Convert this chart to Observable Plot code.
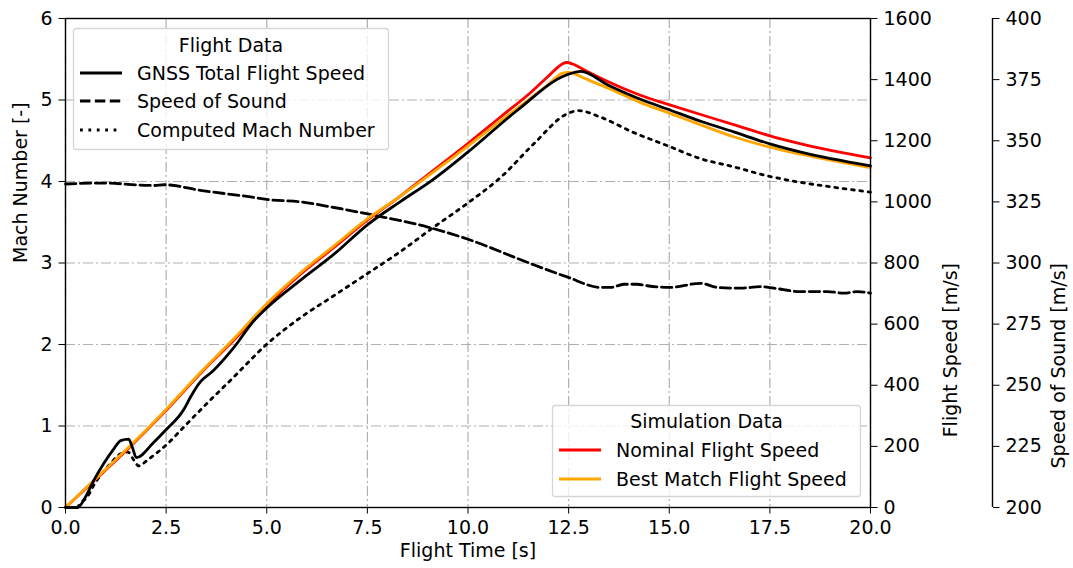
<!DOCTYPE html>
<html><head><meta charset="utf-8">
<script src="https://cdn.jsdelivr.net/npm/d3@7"></script>
<script src="https://cdn.jsdelivr.net/npm/@observablehq/plot@0.6"></script>
<style>
html,body{margin:0;padding:0;background:#fff;}
#wrap{position:relative;width:1073px;height:568px;}
#legend{position:absolute;left:0;top:0;pointer-events:none;}
</style></head>
<body><div id="wrap"></div>
<script>
// ---- tick labels ----
const xTicks = [0, 2.5, 5, 7.5, 10, 12.5, 15, 17.5, 20];
const machTicks = [0, 1, 2, 3, 4, 5, 6];
const flightSpeedTicks = [0, 200, 400, 600, 800, 1000, 1200, 1400, 1600];
const soundSpeedTicks = [200, 225, 250, 275, 300, 325, 350, 375, 400];

// ---- GNSS total flight speed [m/s] ----
const gnssTime  = [0, 0.3, 0.5, 0.7, 0.95, 1.2, 1.37, 1.57, 1.66, 1.76, 2.19, 2.48, 2.95, 3.1, 3.35, 3.65, 4.18, 4.68, 5.0, 5.84, 6.67, 7.5, 8.32, 9.07, 9.98, 11.22, 12.46, 12.8, 13.5, 14.3, 14.95, 15.8, 16.6, 17.5, 18.3, 20];
const gnssSpeed = [0, 0, 35, 88, 144, 192, 219, 224, 197, 163, 213, 252, 323, 360, 411, 445, 523, 611, 653, 744, 829, 925, 1001, 1067, 1161, 1299, 1416, 1427, 1381, 1335, 1304, 1263, 1229, 1190, 1162, 1118];

// ---- Speed of sound [m/s] ----
const sosTime  = [0, 0.9, 2.2, 2.45, 3.35, 4.6, 5.0, 5.84, 6.67, 7.74, 9.0, 10.0, 11.47, 12.46, 13.3, 13.55, 13.87, 14.2, 14.45, 15.0, 15.78, 16.2, 16.77, 17.27, 17.6, 18.26, 18.92, 19.34, 19.67, 20];
const sosSpeed = [332.3, 332.7, 331.7, 332.0, 329.7, 327.0, 326.0, 325.0, 322.7, 319.3, 314.7, 309.7, 300.3, 294.3, 290.0, 290.0, 291.3, 291.3, 290.7, 290.0, 291.7, 290.0, 289.7, 290.3, 289.7, 288.3, 288.3, 287.7, 288.3, 287.7];

// ---- Computed Mach number [-] ----
const machTime  = [0.3, 0.37, 0.54, 0.7, 1.12, 1.37, 1.55, 1.7, 1.82, 2.03, 2.53, 3.02, 3.52, 4.18, 4.97, 5.84, 6.67, 7.5, 8.32, 9.15, 9.98, 10.81, 11.63, 12.46, 12.75, 13.29, 14.12, 14.95, 15.78, 16.6, 17.43, 18.26, 19.08, 20];
const machValue = [0, 0.05, 0.13, 0.27, 0.54, 0.66, 0.68, 0.58, 0.51, 0.58, 0.78, 1.03, 1.28, 1.60, 1.99, 2.33, 2.60, 2.87, 3.14, 3.44, 3.73, 4.05, 4.46, 4.83, 4.87, 4.79, 4.60, 4.44, 4.28, 4.18, 4.07, 3.99, 3.93, 3.87];

// ---- Simulation: nominal flight speed [m/s] ----
const nomTime  = [0, 0.7, 1.53, 2.4, 3.4, 4.18, 5.0, 5.84, 6.67, 7.5, 8.32, 9.07, 9.98, 10.8, 11.6, 12.0, 12.2, 12.35, 12.45, 12.6, 12.8, 13.0, 13.5, 14.3, 14.95, 15.8, 16.6, 17.5, 18.3, 20];
const nomSpeed = [0, 86, 189, 304, 445, 547, 661, 763, 851, 940, 1019, 1096, 1189, 1277, 1363, 1412, 1437, 1452, 1456, 1451, 1438, 1424, 1392, 1348, 1320, 1285, 1253, 1216, 1189, 1144];

// ---- Simulation: best match flight speed [m/s] ----
const bestTime  = [0, 0.7, 1.53, 2.4, 3.4, 4.18, 5.0, 5.84, 6.67, 7.5, 8.32, 9.07, 9.98, 10.8, 11.6, 12.0, 12.2, 12.35, 12.5, 12.65, 12.9, 13.5, 14.3, 14.95, 15.8, 16.6, 17.5, 18.3, 20];
const bestSpeed = [0, 88, 192, 307, 448, 552, 667, 768, 856, 944, 1019, 1091, 1181, 1264, 1344, 1385, 1408, 1421, 1424, 1419, 1404, 1371, 1324, 1293, 1251, 1213, 1179, 1155, 1112];

// unit conversions onto the shared Mach-number axis
const MACH_MAX = 6, FS_MAX = 1600, SOS_MIN = 200, SOS_MAX = 400;
const fsToY = v => v * MACH_MAX / FS_MAX;
const sosToY = a => (a - SOS_MIN) * MACH_MAX / (SOS_MAX - SOS_MIN);

const zip = (ts, vs) => ts.map((t, i) => ({t, v: vs[i]}));
const gnss = zip(gnssTime, gnssSpeed);
const sos = zip(sosTime, sosSpeed);
const mach = zip(machTime, machValue);
const nom = zip(nomTime, nomSpeed);
const best = zip(bestTime, bestSpeed);

const FONT = "DejaVu Sans";
const FS = 19;
const LW = 2.8;
const DASH = "10.4,4.5";
const DOT = "2.8,5.6";
const GRID = {stroke: "#b0b0b0", strokeOpacity: 1, strokeWidth: 1.2, strokeDasharray: "10,3,2,3"};

const chart = Plot.plot({
  width: 1073, height: 568,
  marginLeft: 65, marginRight: 203, marginTop: 18, marginBottom: 61,
  style: {fontFamily: FONT, fontSize: FS + "px", background: "white", overflow: "visible"},
  x: {domain: [0, 20]},
  y: {domain: [0, 6]},
  marks: [
    Plot.gridX(xTicks, GRID),
    Plot.gridY(machTicks, GRID),
    Plot.line(mach, {x: "t", y: "v", stroke: "black", strokeWidth: LW, strokeDasharray: DOT, curve: "monotone-x"}),
    Plot.line(sos, {x: "t", y: d => sosToY(d.v), stroke: "black", strokeWidth: LW, strokeDasharray: DASH, curve: "monotone-x"}),
    Plot.line(nom, {x: "t", y: d => fsToY(d.v), stroke: "#ff0000", strokeWidth: LW, curve: "monotone-x"}),
    Plot.line(best, {x: "t", y: d => fsToY(d.v), stroke: "#ffa500", strokeWidth: LW, curve: "monotone-x"}),
    Plot.line(gnss, {x: "t", y: d => fsToY(d.v), stroke: "black", strokeWidth: LW, curve: "monotone-x"}),
    Plot.frame({stroke: "black", strokeWidth: 1.4}),
    Plot.axisX(xTicks, {tickFormat: d3.format(".1f"), tickSize: 6.5, tickPadding: 6, label: null, fontSize: FS}),
    Plot.axisY(machTicks, {anchor: "left", tickSize: 6.5, tickPadding: 6.5, label: null, fontSize: FS, tickFormat: d => String(d)}),
    Plot.axisY(flightSpeedTicks.map(fsToY), {anchor: "right", tickSize: 6.5, tickPadding: 6.5, label: null, fontSize: FS,
      tickFormat: d => String(Math.round(d * FS_MAX / MACH_MAX))}),
    Plot.ruleX([20], {dx: 122, stroke: "black", strokeWidth: 1.4}),
    Plot.axisY(soundSpeedTicks.map(sosToY), {anchor: "right", dx: 122, tickSize: 6.5, tickPadding: 6.5, label: null, fontSize: FS,
      tickFormat: d => String(Math.round(d * (SOS_MAX - SOS_MIN) / MACH_MAX + SOS_MIN))}),
    Plot.text(["Mach Number [-]"], {text: d => d, frameAnchor: "left", dx: -45, rotate: -90, fontSize: FS}),
    Plot.text(["Flight Speed [m/s]"], {text: d => d, frameAnchor: "right", dx: 80, rotate: -90, fontSize: FS}),
    Plot.text(["Speed of Sound [m/s]"], {text: d => d, frameAnchor: "right", dx: 188, rotate: -90, fontSize: FS}),
    Plot.text(["Flight Time [s]"], {text: d => d, frameAnchor: "bottom", dy: 49, fontSize: FS})
  ]
});
const wrap = document.getElementById("wrap");
wrap.appendChild(chart);

// ---- legends (overlay) ----
const legends = [
  {title: "Flight Data", box: [73, 28, 316, 122], titleY: 17, items: [
    {label: "GNSS Total Flight Speed", stroke: "black", dash: null, y: 45},
    {label: "Speed of Sound", stroke: "black", dash: DASH, y: 73},
    {label: "Computed Mach Number", stroke: "black", dash: DOT, y: 102}
  ]},
  {title: "Simulation Data", box: [552, 405, 309, 92], titleY: 16, items: [
    {label: "Nominal Flight Speed", stroke: "#ff0000", dash: null, y: 45},
    {label: "Best Match Flight Speed", stroke: "#ffa500", dash: null, y: 74}
  ]}
];
const svg = d3.select(wrap).append("svg").attr("id", "legend")
  .attr("width", 1073).attr("height", 568)
  .style("font-family", FONT).style("font-size", FS + "px");
const capHalf = 0.729 * FS / 2;
for (const lg of legends) {
  const [x0, y0, w, h] = lg.box;
  const g = svg.append("g").attr("transform", `translate(${x0},${y0})`);
  g.append("rect").attr("x", 0.5).attr("y", 0.5).attr("width", w - 1).attr("height", h - 1)
    .attr("rx", 3).attr("fill", "white").attr("fill-opacity", 0.8)
    .attr("stroke", "#d6d6d6").attr("stroke-width", 1.3);
  g.append("text").attr("x", w / 2).attr("y", lg.titleY + capHalf).attr("text-anchor", "middle").text(lg.title);
  for (const it of lg.items) {
    g.append("line").attr("x1", 7).attr("x2", 49).attr("y1", it.y).attr("y2", it.y)
      .attr("stroke", it.stroke).attr("stroke-width", LW)
      .attr("stroke-dasharray", it.dash);
    g.append("text").attr("x", 64).attr("y", it.y + capHalf).text(it.label);
  }
}
</script>
</body></html>
